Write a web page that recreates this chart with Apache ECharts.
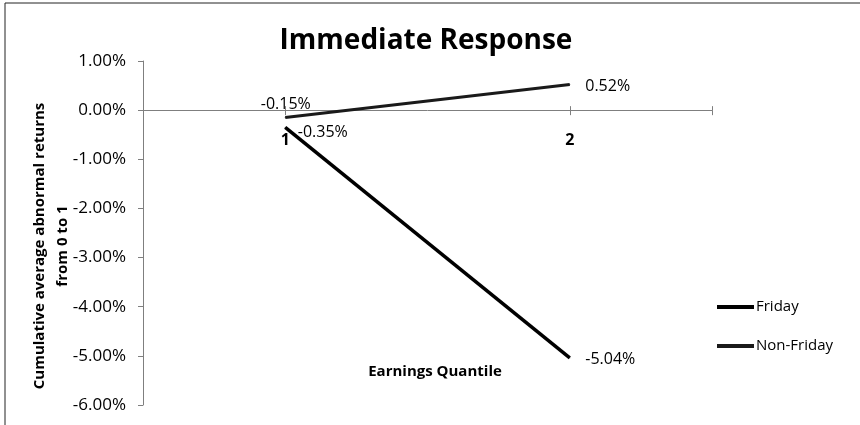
<!DOCTYPE html>
<html>
<head>
<meta charset="utf-8">
<script src="https://cdn.jsdelivr.net/npm/echarts@6/dist/echarts.min.js"></script>
<style>
  html, body { margin: 0; padding: 0; background: #fff; }
  #chart { width: 860px; height: 425px; }
</style>
</head>
<body>
<div id="chart"></div>
<script>
const quantiles = [1, 2];
const fridayValues = [-0.35, -5.04];
const nonFridayValues = [-0.15, 0.52];
const seriesNames = ["Friday", "Non-Friday"];
const yTicks = { min: -6, max: 1, step: 1 };

const FONT = "Open Sans";
const AXIS_GRAY = "#7f7f7f";
const GRID = { left: 143, right: 148, top: 61, bottom: 20 };
const X_TICKS = [1, 2, 2.5];

const toPairs = values => quantiles.map((q, i) => [q, values[i]]);
const pct = v => v.toFixed(2) + "%";

const chart = echarts.init(document.getElementById("chart"));

function lineSeries(name, values, color, width, labelShift) {
  return {
    name,
    type: "line",
    data: toPairs(values),
    symbol: "circle",
    symbolSize: 1,
    lineStyle: { color, width },
    itemStyle: { color },
    label: {
      show: true,
      formatter: p => pct(p.value[1]),
      position: "right",
      distance: 14,
      fontFamily: FONT, fontSize: 16, color: "#000"
    },
    labelLayout: p => labelShift[p.dataIndex]
  };
}

const xBase = {
  type: "value",
  min: 0.5,
  max: 2.5,
  position: "bottom",
  splitLine: { show: false }
};

chart.setOption({
  animation: false,
  backgroundColor: "#fff",
  title: {
    text: "Immediate Response",
    left: 421,
    top: 22,
    textAlign: "center",
    textStyle: { fontFamily: FONT, fontSize: 28, fontWeight: "bold", color: "#000" }
  },
  grid: Object.assign({ outerBoundsMode: "none" }, GRID),
  legend: {
    orient: "vertical",
    left: 712,
    top: 294,
    icon: "rect",
    itemWidth: 37,
    itemHeight: 4,
    itemGap: 23,
    data: seriesNames,
    textStyle: { fontFamily: FONT, fontSize: 15, color: "#000", padding: [0, 0, 0, -3], lineHeight: 16 }
  },
  xAxis: [
    Object.assign({}, xBase, {
      axisLine: { onZero: false, lineStyle: { color: AXIS_GRAY, width: 1 } },
      axisTick: { show: true, length: 5, customValues: X_TICKS, lineStyle: { color: AXIS_GRAY } },
      axisLabel: {
        customValues: quantiles,
        margin: 22,
        fontFamily: FONT, fontSize: 16, fontWeight: "bold", color: "#000"
      }
    }),
    // second copy only for the upper half of the crossing ticks
    Object.assign({}, xBase, {
      axisLine: { show: false, onZero: false },
      axisTick: { show: true, inside: true, length: 4, customValues: X_TICKS, lineStyle: { color: AXIS_GRAY } },
      axisLabel: { show: false }
    })
  ],
  yAxis: {
    type: "value",
    min: yTicks.min,
    max: yTicks.max,
    interval: yTicks.step,
    axisLine: { show: true, onZero: false, lineStyle: { color: AXIS_GRAY } },
    axisTick: { show: true, length: 5, lineStyle: { color: AXIS_GRAY } },
    splitLine: { show: false },
    axisLabel: {
      formatter: pct,
      margin: 17,
      fontFamily: FONT, fontSize: 17, color: "#000"
    }
  },
  graphic: [
    {
      type: "rect",
      shape: { x: 5, y: 3, width: 900, height: 500 },
      style: { fill: null, stroke: "#222", lineWidth: 1 },
      silent: true
    },
    {
      type: "text",
      x: 40, y: 246, rotation: Math.PI / 2,
      style: {
        text: "Cumulative average abnormal returns",
        fontFamily: FONT, fontSize: 15, fontWeight: "bold", fill: "#000",
        align: "center", verticalAlign: "middle"
      }
    },
    {
      type: "text",
      x: 63, y: 246, rotation: Math.PI / 2,
      style: {
        text: "from 0 to 1",
        fontFamily: FONT, fontSize: 15, fontWeight: "bold", fill: "#000",
        align: "center", verticalAlign: "middle"
      }
    },
    {
      type: "text",
      x: 435, y: 372,
      style: {
        text: "Earnings Quantile",
        fontFamily: FONT, fontSize: 15, fontWeight: "bold", fill: "#000",
        align: "center", verticalAlign: "middle"
      }
    }
  ],
  series: [
    lineSeries(seriesNames[0], fridayValues, "#000", 3.5, [{ dx: -2, dy: 5 }, { dx: 1, dy: 2 }]),
    lineSeries(seriesNames[1], nonFridayValues, "#1a1a1a", 3, [{ dx: -39, dy: -13 }, { dx: 1, dy: 2 }])
  ]
});

// put the x axis on the zero line, measured through the y scale
const zeroY = chart.convertToPixel({ yAxisIndex: 0 }, 0);
const gridBottomY = chart.getHeight() - GRID.bottom;
const offset = zeroY - gridBottomY;
chart.setOption({ xAxis: [{ offset }, { offset }] });
</script>
</body>
</html>
